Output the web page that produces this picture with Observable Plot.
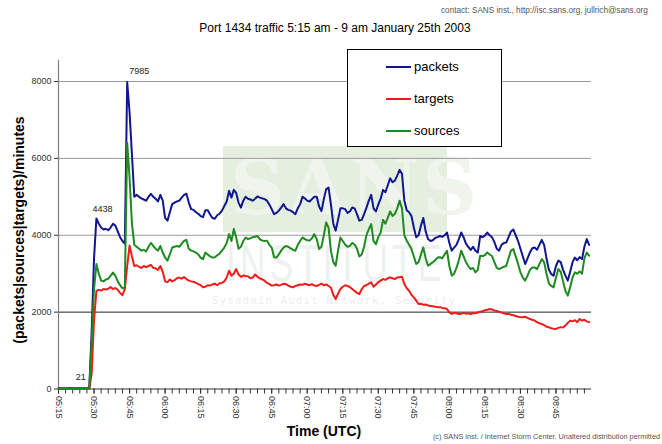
<!DOCTYPE html>
<html><head><meta charset="utf-8">
<script src="https://cdn.jsdelivr.net/npm/d3@7"></script>
<script src="https://cdn.jsdelivr.net/npm/@observablehq/plot@0.6"></script>
<style>
body{margin:0;background:#fff;}
#wrap{position:relative;width:662px;height:444px;overflow:hidden;font-family:"Liberation Sans",Arial,sans-serif;background:#fff;}
.abs{position:absolute;white-space:nowrap;}
#chart{position:absolute;left:0;top:0;}
#legend{position:absolute;left:347px;top:49px;width:153px;height:96px;border:1px solid #000;background:#fff;}
.li{position:absolute;left:38px;height:16px;font-size:13px;line-height:16px;color:#000;}
.li span.sw{display:inline-block;width:25px;height:2px;vertical-align:middle;margin-right:3px;position:relative;top:-1px;}
</style></head>
<body><div id="wrap">
  <div class="abs" style="left:223px;top:146px;width:224px;height:86px;background:#e4efe0;"></div>
  <div class="abs" style="left:230px;top:149px;height:78px;font-size:76px;line-height:78px;font-weight:bold;color:#eff5ed;letter-spacing:3px;font-family:'DejaVu Serif',serif;">SANS</div>
  <div class="abs" style="left:226px;top:238px;height:50px;font-size:52px;line-height:50px;color:#eef2ee;letter-spacing:6px;font-weight:300;transform:scaleX(0.68);transform-origin:0 0;">INSTITUTE</div>
  <div class="abs" style="left:212px;top:293px;height:15px;font-size:11px;line-height:15px;color:#ecefec;letter-spacing:1px;font-family:'DejaVu Sans Mono',monospace;">Sysadmin Audit Network, Security</div>
  <div id="chart"></div>
  <div class="abs" style="left:441px;top:6px;font-size:8.2px;color:#555;">contact: SANS inst., http://isc.sans.org, jullrich@sans.org</div>
  <div class="abs" style="left:0;width:662px;top:21px;text-align:center;font-size:12px;color:#000;padding-left:8px;box-sizing:border-box;">Port 1434 traffic 5:15 am - 9 am January 25th 2003</div>
  <div class="abs" style="left:19px;top:230px;transform:translate(-50%,-50%) rotate(-90deg);font-size:14px;font-weight:bold;">(packets|sources|targets)/minutes</div>
  <div class="abs" style="left:324px;top:423px;transform:translateX(-50%);font-size:14px;font-weight:bold;">Time (UTC)</div>
  <div class="abs" style="right:2px;top:432px;font-size:7.3px;color:#555;">(c) SANS inst. / Internet Storm Center. Unaltered distribution permitted</div>
  <div id="legend"></div>
</div>
<script>
const seriesNames = ["packets", "targets", "sources"];
const seriesColors = ["#101690", "#ee1c1c", "#1f8a1f"];
const startTime = "2003-01-25T05:15:00Z";
const endTime = "2003-01-25T09:00:00Z";
const xTickLabels = ["05:15","05:30","05:45","06:00","06:15","06:30","06:45","07:00","07:15","07:30","07:45","08:00","08:15","08:30","08:45"];
const yTicks = [0, 2000, 4000, 6000, 8000];
const annotations = [{minute: 29, series: "packets"}, {minute: 16, series: "packets"}, {minute: 9, series: "packets"}];

const packets = [
21,19,22,20,21,23,20,21,22,21,20,22,21,25,1500,
3400,4438,4300,4200,4150,4170,4130,4200,4300,4250,4100,3950,3850,3780,7985,
7200,6100,5000,5050,5000,4960,4930,4900,5000,5080,5000,4950,4880,5050,4900,
4450,4380,4600,4810,4850,4880,4900,4980,5050,5080,4850,4680,4660,4600,4560,
4500,4470,4650,4650,4540,4450,4430,4520,4560,4640,4760,4880,5155,4980,5180,
5100,4850,4720,4900,5000,4950,4930,4900,4950,5010,4980,4960,4940,4900,4800,
4680,4550,4580,4640,4720,4810,4700,4660,4640,4600,4550,4700,4810,5000,4960,
4900,4880,4940,5000,5000,4750,4630,4940,5200,5240,4800,4300,4120,4400,4700,
4700,4680,4580,4620,4720,4700,4550,4380,4400,4550,4720,4900,5050,4700,4620,
4800,4950,5180,5120,5300,5480,5380,5420,5550,5700,5600,4900,4650,4600,4500,
4200,3950,4000,4250,4450,4100,3900,3850,3870,3930,3950,3980,3960,4000,4070,
3800,3600,3680,3750,3900,4070,3950,3780,3700,3620,3700,3600,3550,3980,3950,
3990,4070,4000,3950,3820,3650,3600,3750,3800,3810,3950,4100,4150,4000,3850,
3650,3450,3250,3400,3550,3660,3680,3620,3750,3880,3750,3400,3100,2990,2950,
3200,3340,3300,3100,2950,2820,3050,3300,3420,3350,3430,3380,3700,3900,3750];

const targets = [
3,4,5,3,4,5,4,3,5,4,3,4,5,6,400,
1800,2550,2580,2560,2600,2590,2610,2650,2600,2630,2580,2500,2440,2600,3200,
3730,3450,3200,3220,3180,3150,3200,3170,3200,3230,3150,3140,3100,3200,3050,
2800,2780,2850,2800,2830,2880,2900,2870,2910,2860,2820,2800,2790,2760,2730,
2700,2650,2660,2700,2690,2720,2740,2700,2750,2760,2800,2900,3077,2950,3000,
3120,2980,2920,2950,2940,2930,2880,2900,2980,2920,2880,2850,2818,2760,2730,
2690,2700,2720,2690,2710,2740,2730,2690,2660,2645,2680,2700,2720,2710,2740,
2720,2700,2730,2690,2680,2710,2740,2700,2720,2680,2640,2450,2342,2480,2600,
2660,2700,2680,2650,2600,2550,2500,2472,2600,2680,2700,2740,2774,2660,2720,
2780,2820,2860,2840,2880,2904,2880,2860,2900,2910,2920,2731,2620,2558,2450,
2385,2300,2212,2220,2190,2200,2170,2160,2150,2140,2130,2130,2110,2100,2082,
1990,1953,1980,1970,1950,1960,1980,1960,1970,1950,1980,1970,1990,2010,2020,
2050,2060,2082,2070,2040,2030,2010,1990,1970,1953,1960,1930,1920,1900,1880,
1870,1865,1880,1850,1820,1800,1779,1740,1710,1693,1660,1620,1605,1580,1570,
1562,1590,1610,1600,1650,1720,1779,1760,1790,1740,1822,1780,1800,1760,1740];

const sources = [
9,8,10,9,11,10,9,10,11,10,9,11,10,12,1200,
2600,3250,3000,2820,2800,2850,2870,2950,3030,2950,2800,2700,2620,2650,6400,
5500,4300,3750,3700,3650,3600,3620,3580,3700,3800,3720,3650,3600,3720,3550,
3420,3340,3500,3680,3700,3720,3700,3780,3850,3880,3650,3600,3580,3550,3500,
3420,3380,3550,3500,3450,3420,3430,3480,3520,3600,3680,3800,4030,3850,4160,
3950,3650,3700,3850,3940,3900,3920,3950,3960,3980,3900,3860,3850,3860,3750,
3680,3430,3420,3500,3600,3680,3720,3700,3660,3620,3597,3750,3850,3943,3900,
3870,3860,3920,4030,3900,3640,3700,4000,4332,4200,3600,3300,3207,3600,3940,
3850,3760,3700,3720,3800,3760,3650,3450,3500,3700,4000,4160,4290,3850,3770,
3950,4072,4400,4300,4450,4620,4500,4560,4700,4900,4700,4000,3857,3750,3640,
3450,3250,3300,3500,3683,3400,3207,3250,3300,3350,3420,3430,3400,3500,3597,
3200,2950,3000,3150,3350,3597,3450,3300,3200,3120,3150,3034,3100,3467,3460,
3480,3553,3500,3460,3300,3150,3120,3150,3180,3200,3400,3600,3640,3450,3250,
3034,2900,2818,2950,3100,3160,3163,3120,3250,3380,3300,3000,2750,2680,2645,
2900,3120,3050,2800,2550,2428,2650,2900,3034,3000,3060,3000,3400,3550,3470];

const valuesBySeries = {packets, targets, sources};
const t0 = new Date(startTime), t1 = new Date(endTime);
const timeAt = i => new Date(t0.getTime() + i * 60000);
const tickDate = s => { const [h, m] = s.split(":").map(Number); return new Date(Date.UTC(2003, 0, 25, h, m)); };
const majorTicks = xTickLabels.map(tickDate);
const minorTicks = d3.utcMinute.every(3).range(t0, t1);

const lineMarks = seriesNames.map((name, k) =>
  Plot.line(valuesBySeries[name].map((v, i) => ({t: timeAt(i), v})),
    {x: "t", y: "v", stroke: seriesColors[k], strokeWidth: 2, strokeLinejoin: "round"}));

const annoData = annotations.map(a => ({t: timeAt(a.minute), v: valuesBySeries[a.series][a.minute]}));
const annoOffsets = [[12, -11], [6, -9], [1, -11]];

const chart = Plot.plot({
  width: 662, height: 444,
  marginLeft: 58, marginRight: 71, marginTop: 81, marginBottom: 55.5,
  style: {fontFamily: "'Liberation Sans', Arial, sans-serif", fontSize: "9px", background: "transparent", color: "#333", overflow: "visible"},
  x: {type: "utc", domain: [t0, t1]},
  y: {domain: [0, 8000]},
  marks: [
    Plot.ruleY(yTicks.filter(d => d !== 0 && d !== 2000), {stroke: "#9a9a9a", strokeWidth: 1}),
    Plot.ruleY([2000], {stroke: "#222", strokeWidth: 1}),
    Plot.ruleX([t0], {y1: 0, y2: 8550, stroke: "#808080", strokeWidth: 1.2}),
    Plot.ruleY([0], {stroke: "#333", strokeWidth: 1}),
    Plot.axisY({ticks: yTicks, tickSize: 4, tickPadding: 3, label: null, tickFormat: d => String(d)}),
    Plot.axisX({ticks: minorTicks, tickSize: 5, tickFormat: () => "", label: null}),
    Plot.axisX({ticks: majorTicks, tickSize: 5, tickPadding: 2, tickRotate: 90, tickFormat: d3.utcFormat("%H:%M"), label: null}),
    ...lineMarks,
    ...annoData.map((d, i) => Plot.text([d], {x: "t", y: "v", text: d => String(d.v), dx: annoOffsets[i][0], dy: annoOffsets[i][1], fill: "#222", fontSize: 9}))
  ]
});
document.getElementById("chart").appendChild(chart);

const legend = document.getElementById("legend");
seriesNames.forEach((name, k) => {
  const el = document.createElement("div");
  el.className = "li";
  el.style.top = (9 + k * 32) + "px";
  el.innerHTML = `<span class="sw" style="background:${seriesColors[k]}"></span>${name}`;
  legend.appendChild(el);
});
</script>
</body></html>
